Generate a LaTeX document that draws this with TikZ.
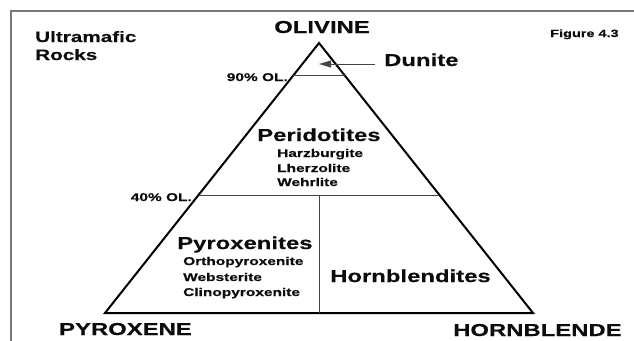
\documentclass[tikz,border=0pt]{standalone}
\usepackage{fontspec}
\setmainfont{Liberation Sans}[FakeStretch=1.38, BoldFeatures={FakeBold=0.4}]
\usetikzlibrary{arrows.meta, calc}
\definecolor{FrameGray}{RGB}{120,120,120}
\definecolor{LineGray}{RGB}{70,70,70}
\definecolor{InkBlack}{RGB}{12,12,12}

\begin{document}
\begin{tikzpicture}[x=1pt, y=-1pt, text=InkBlack,
	big/.style={inner sep=0pt, font=\fontsize{17.3}{20}\selectfont\bfseries},
	sub/.style={inner sep=0pt, anchor=base west, font=\fontsize{11.2}{13}\selectfont\bfseries},
	pct/.style={inner sep=0pt, anchor=base east, font=\fontsize{11.2}{13}\selectfont\bfseries},
	ln/.style={line width=1pt, LineGray},
	ptr/.style={-{Triangle[length=12pt, width=7pt]}, line width=1pt, LineGray}]
	\useasboundingbox (0,0) rectangle (634,340);
	\draw[FrameGray, line width=1.5pt] (11,342) -- (11,11) -- (636,11);
	\coordinate (ol) at (319,43);
	\coordinate (px) at (105,313);
	\coordinate (hb) at (533,313);
	\draw[line width=2pt, black] (ol) -- (px) -- (hb) -- cycle;
	\coordinate (l90) at ($(ol)!0.122!(px)$);
	\coordinate (r90) at ($(ol)!0.122!(hb)$);
	\coordinate (l40) at ($(ol)!0.563!(px)$);
	\coordinate (r40) at ($(ol)!0.563!(hb)$);
	\coordinate (m40) at ($(l40)!0.5!(r40)$);
	\draw[ln] (l90) -- (r90);
	\draw[ln] (l40) -- (r40);
	\draw[ln] (m40) -- (m40 |- px);
	\node[inner sep=0pt, anchor=base west, font=\fontsize{15}{18}\selectfont\bfseries] (ult) at (35,42) {Ultramafic};
	\node[inner sep=0pt, anchor=base west, font=\fontsize{15}{18}\selectfont\bfseries] (rks) at (35,60) {Rocks};
	\node[inner sep=0pt, anchor=base west, font=\fontsize{10.5}{12}\selectfont\bfseries] (fig) at (550,37) {Figure 4.3};
	\node[big, anchor=base] (olv) at (322,33) {OLIVINE};
	\node[big, anchor=base east] (pyx) at (192,335) {PYROXENE};
	\node[big, anchor=base west] (hbl) at (453,336) {HORNBLENDE};
	\node[big, anchor=base west] (dun) at (384,66) {Dunite};
	\coordinate (dtip) at (319,64);
	\draw[ptr] ($(dun.west |- dtip)+(-9,0)$) -- (dtip);
	\node[pct] (p90) at (288,81) {90\% OL.};
	\node[pct] (p40) at (192,201) {40\% OL.};
	\node[big, anchor=base west] (per) at (257,141) {Peridotites};
	\node[sub] (hzb) at (277,157) {Harzburgite};
	\node[sub] (lhz) at (277,172) {Lherzolite};
	\node[sub] (whr) at (277,186) {Wehrlite};
	\node[big, anchor=base west] (pyr) at (177,249) {Pyroxenites};
	\node[sub] (opx) at (183,265) {Orthopyroxenite};
	\node[sub] (web) at (183,281) {Websterite};
	\node[sub] (cpx) at (183,296) {Clinopyroxenite};
	\node[big, anchor=base west] (hbd) at (330,282) {Hornblendites};
\end{tikzpicture}
\end{document}
